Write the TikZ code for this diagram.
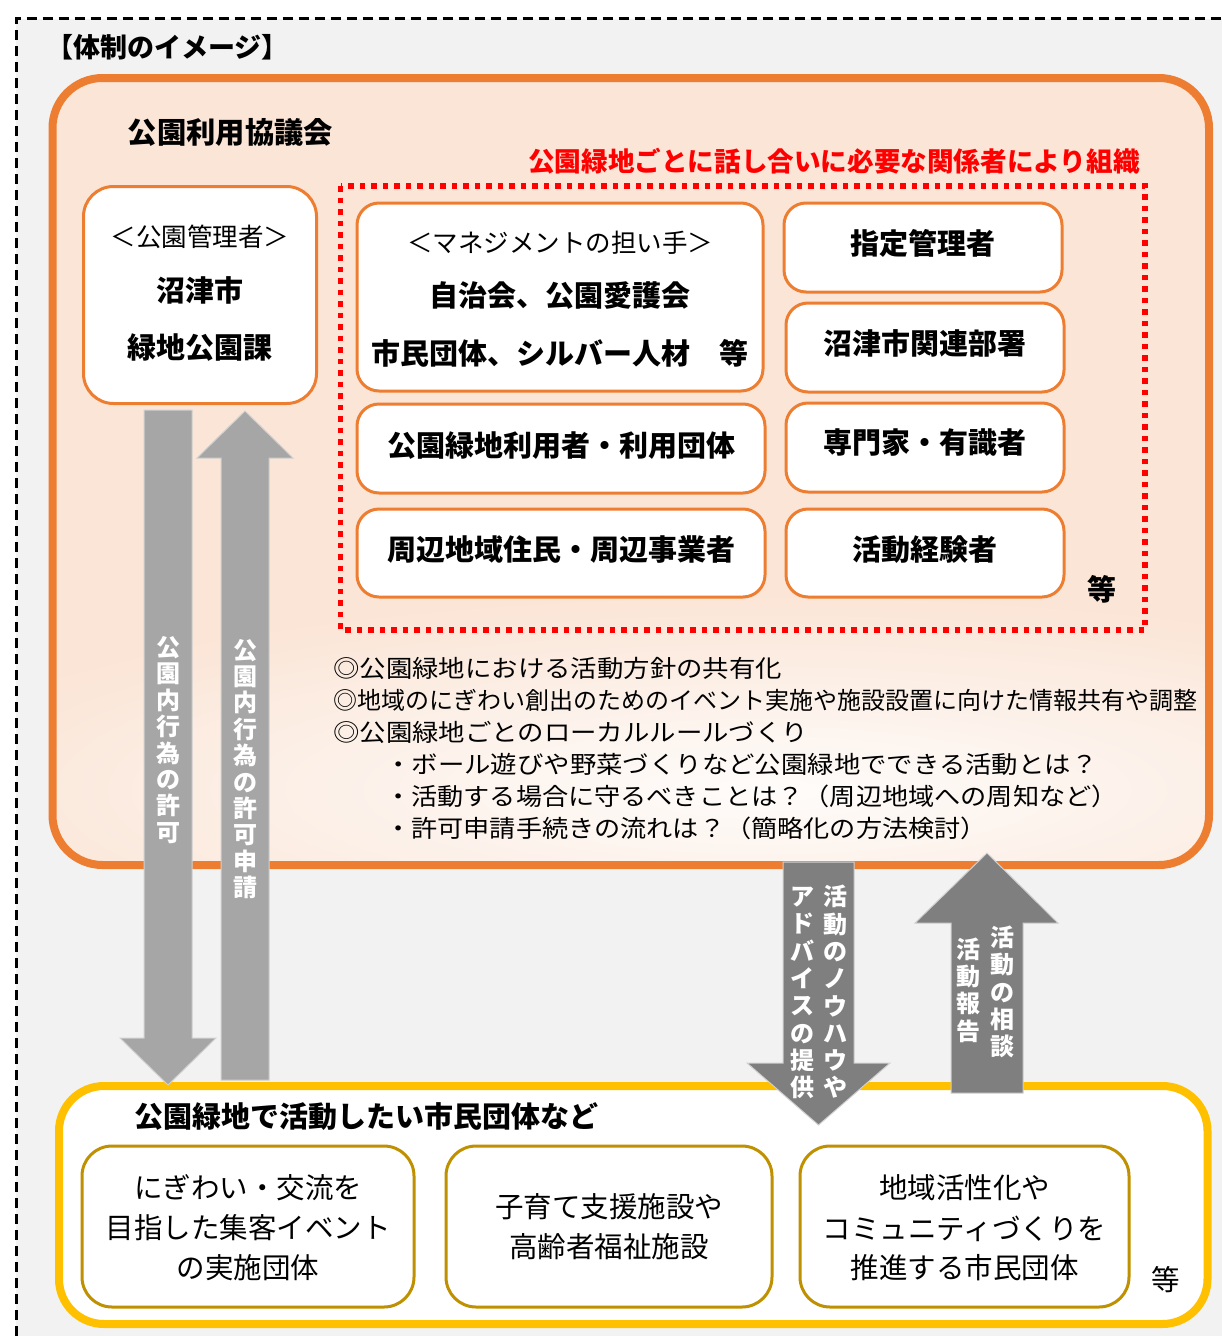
\documentclass[tikz,border=0pt]{standalone}
\usepackage{fontspec}
\setmainfont{Noto Sans CJK JP}
\usepackage{graphicx}
\usetikzlibrary{fadings}
\definecolor{bggray}{HTML}{F2F2F2}
\definecolor{orgline}{HTML}{ED7D31}
\definecolor{peach}{HTML}{FBE5D6}
\definecolor{redline}{HTML}{FF0000}
\definecolor{yelline}{HTML}{FFC000}
\definecolor{goldline}{HTML}{BF9000}
\definecolor{arrlight}{HTML}{A6A6A6}
\definecolor{arrdark}{HTML}{7F7F7F}
\definecolor{arredge}{HTML}{D0D0D0}
\newcommand{\myfs}[1]{\fontsize{#1}{#1}\selectfont}
\tikzfading[name=glowfade, inner color=transparent!10, outer color=transparent!100]
\begin{document}
\begin{tikzpicture}[x=1pt,y=-1pt,
  ibox/.style={draw=orgline, line width=3pt, fill=white, rounded corners=22pt, inner sep=0pt},
  gbox/.style={draw=goldline, line width=3pt, fill=white, rounded corners=30pt, inner sep=0pt},
  bt/.style={font=\bfseries\myfs{29}, inner sep=0pt},
  rt/.style={font=\myfs{25.5}, inner sep=0pt},
  bl/.style={font=\myfs{24}, inner sep=0pt, anchor=west},
  gt/.style={font=\myfs{28.5}, inner sep=0pt},
  vt/.style={font=\bfseries\fontsize{24}{26.4}\selectfont, text=white, align=center, inner sep=0pt},
  vtw/.style={font=\bfseries\fontsize{24}{27.3}\selectfont, text=white, align=center, inner sep=0pt},
  larr/.style={fill=arrlight, draw=arredge, line width=1pt},
  darr/.style={fill=arrdark, draw=arredge, line width=1pt}]

\useasboundingbox (0,0) rectangle (1222,1336);
\fill[white] (0,0) rectangle (1222,1336);
\fill[bggray] (16,18.5) rectangle (1222,1336);
\draw[line width=3pt, dash pattern=on 10pt off 6pt] (16,1336) -- (16,18.5) -- (1222,18.5);

\node[font=\bfseries\myfs{27}, inner sep=0pt] (title) at (167.5,47) {【体制のイメージ】};

% council box
\fill[peach, rounded corners=50pt] (52.5,78) rectangle (1209,865);
\begin{scope}
  \clip[rounded corners=50pt] (52.5,78) rectangle (1209,865);
  \fill[white, path fading=glowfade, fit fading=true] (-135,590) rectangle (1665,990);
\end{scope}
\draw[orgline, line width=8pt, rounded corners=50pt] (52.5,78) rectangle (1209,865);

\node[bt, font=\bfseries\myfs{29.3}] (council) at (230.5,132.5) {公園利用協議会};
\node[bt, text=redline, font=\bfseries\myfs{26.6}] (redtitle) at (834,161) {公園緑地ごとに話し合いに必要な関係者により組織};

\draw[redline, line width=5.5pt, dash pattern=on 5.5pt off 6pt] (340.5,186) rectangle (1145,630);

% park manager
\node[ibox, rounded corners=30pt, minimum width=233pt, minimum height=217pt] (mgr) at (200,295) {};
\node[rt] (mgr1) at (200,236.5) {＜公園管理者＞};
\node[bt] (mgr2) at (200,290) {沼津市};
\node[bt] (mgr3) at (200,347.5) {緑地公園課};

% members
\node[ibox, minimum width=406pt, minimum height=188pt] (mgmt) at (560,297) {};
\node[rt] (mgmt1) at (560,242.5) {＜マネジメントの担い手＞};
\node[bt] (mgmt2) at (560,296) {自治会、公園愛護会};
\node[bt] (mgmt3) at (560,353) {市民団体、シルバー人材　等};

\node[ibox, minimum width=408pt, minimum height=89pt] (users) at (561,448.5) {};
\node[bt] (userst) at (561,446) {公園緑地利用者・利用団体};
\node[ibox, minimum width=408pt, minimum height=88pt] (resid) at (561,553) {};
\node[bt] (residt) at (561,549.5) {周辺地域住民・周辺事業者};

\node[ibox, minimum width=278pt, minimum height=89pt] (desig) at (923,247.5) {};
\node[bt] (desigt) at (923,243) {指定管理者};
\node[ibox, minimum width=278pt, minimum height=89pt] (dept) at (925,347.5) {};
\node[bt] (deptt) at (925,343) {沼津市関連部署};
\node[ibox, minimum width=278pt, minimum height=89pt] (expert) at (925,447.5) {};
\node[bt] (expertt) at (925,443) {専門家・有識者};
\node[ibox, minimum width=278pt, minimum height=88pt] (exper) at (925,553) {};
\node[bt] (expert2) at (925,550) {活動経験者};
\node[bt] (etc1) at (1102,589) {等};

% bullets
\node[bl] (b1) at (333,668) {\scalebox{1.1}[1]{◎公園緑地における活動方針の共有化}};
\node[bl] (b2) at (333,700) {◎地域のにぎわい創出のためのイベント実施や施設設置に向けた情報共有や調整};
\node[bl] (b3) at (333,732) {\scalebox{1.1}[1]{◎公園緑地ごとのローカルルールづくり}};
\node[bl] (b4) at (385,764) {\scalebox{1.1}[1]{・ボール遊びや野菜づくりなど公園緑地でできる活動とは？}};
\node[bl] (b5) at (385,796) {\scalebox{1.09}[1]{・活動する場合に守るべきことは？（周辺地域への周知など）}};
\node[bl] (b6) at (385,828) {\scalebox{1.09}[1]{・許可申請手続きの流れは？（簡略化の方法検討）}};

% citizen groups
\draw[yelline, line width=8pt, fill=white, rounded corners=45pt] (59,1086) rectangle (1207.5,1324);
\node[bt] (grp) at (366.5,1117) {公園緑地で活動したい市民団体など};

\node[gbox, minimum width=332pt, minimum height=161pt] (g1) at (248,1226.5) {};
\node[gt] (g1a) at (248,1188) {にぎわい・交流を};
\node[gt] (g1b) at (248,1228) {目指した集客イベント};
\node[gt] (g1c) at (248,1268) {の実施団体};

\node[gbox, minimum width=326pt, minimum height=161pt] (g2) at (609,1226.5) {};
\node[gt] (g2a) at (609,1207) {子育て支援施設や};
\node[gt] (g2b) at (609,1247) {高齢者福祉施設};

\node[gbox, minimum width=329pt, minimum height=161pt] (g3) at (964.5,1226.5) {};
\node[gt] (g3a) at (964.5,1188) {地域活性化や};
\node[gt] (g3b) at (964.5,1229) {コミュニティづくりを};
\node[gt] (g3c) at (964.5,1268) {推進する市民団体};
\node[gt] (etc2) at (1166,1280) {等};

% arrows
\draw[larr] (144,410) -- (192,410) -- (192,1038) -- (216,1038) -- (168,1085) -- (120,1038) -- (144,1038) -- cycle;
\draw[larr] (221,1080) -- (221,458) -- (197,458) -- (245,411) -- (293,458) -- (269,458) -- (269,1080) -- cycle;
\draw[darr] (783,862) -- (854,862) -- (854,1063) -- (890,1063) -- (818.5,1125) -- (747,1063) -- (783,1063) -- cycle;
\draw[darr] (951,1093) -- (951,923) -- (915,923) -- (987,853) -- (1058,923) -- (1023,923) -- (1023,1093) -- cycle;

\node[vt] (t1) at (168,740) {公\\園\\内\\行\\為\\の\\許\\可};
\node[vt] (t2) at (245,769) {公\\園\\内\\行\\為\\の\\許\\可\\申\\請};
\node[vtw] (t3a) at (835,992) {活\\動\\の\\ノ\\ウ\\ハ\\ウ\\や};
\node[vtw] (t3b) at (802,993) {ア\\ド\\バ\\イ\\ス\\の\\提\\供};
\node[vtw] (t4a) at (1002,992) {活\\動\\の\\相\\談};
\node[vtw] (t4b) at (968,990) {活\\動\\報\\告};
\end{tikzpicture}
\end{document}
